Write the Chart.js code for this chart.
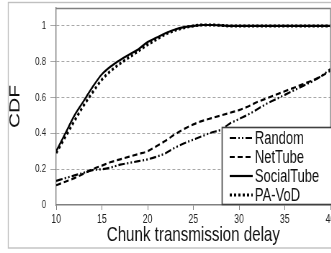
<!DOCTYPE html>
<html>
<head>
<meta charset="utf-8">
<script src="https://cdn.jsdelivr.net/npm/chart.js@4"></script>
<style>
  html, body { margin: 0; padding: 0; background: #fff; }
  #wrap { width: 331px; height: 253px; overflow: hidden; position: relative; }
  /* the original figure is squeezed horizontally */
  #c { transform: scaleX(0.72); transform-origin: 0 0; }
</style>
</head>
<body>
<div id="wrap"><canvas id="c" width="460" height="253"></canvas></div>
<script>
// Данные
const delays = [10, 11, 12, 13, 14, 15, 16, 17, 18, 19, 20, 21, 22, 23, 24, 25,
                26, 27, 28, 29, 30, 31, 32, 33, 34, 35, 36, 37, 38, 39, 40];
const randomCdf = [0.135, 0.15, 0.165, 0.18, 0.195, 0.20, 0.21, 0.225, 0.235, 0.245, 0.255,
                   0.27, 0.29, 0.32, 0.345, 0.365, 0.385, 0.405, 0.42, 0.455, 0.48,
                   0.505, 0.535, 0.565, 0.59, 0.615, 0.64, 0.665, 0.69, 0.72, 0.76];
const netTubeCdf = [0.11, 0.13, 0.15, 0.175, 0.20, 0.22, 0.24, 0.255, 0.27, 0.285, 0.30,
                    0.33, 0.36, 0.395, 0.425, 0.45, 0.47, 0.485, 0.50, 0.515, 0.53,
                    0.55, 0.575, 0.595, 0.615, 0.635, 0.655, 0.675, 0.695, 0.72, 0.75];
const socialTubeCdf = [0.30, 0.40, 0.50, 0.58, 0.66, 0.73, 0.775, 0.81, 0.84, 0.87, 0.91,
                       0.935, 0.96, 0.98, 0.993, 1.0, 1.005, 1.005, 1.003, 1.0, 1.0,
                       1.0, 1.0, 1.0, 1.0, 1.0, 1.0, 1.0, 1.0, 1.0, 1.0];
const paVodCdf = [0.29, 0.38, 0.47, 0.555, 0.63, 0.70, 0.75, 0.79, 0.825, 0.86, 0.895,
                  0.925, 0.955, 0.975, 0.99, 1.0, 1.005, 1.005, 1.003, 1.0, 1.0,
                  1.0, 1.0, 1.0, 1.0, 1.0, 1.0, 1.0, 1.0, 1.0, 1.0];
const seriesNames = ['Random', 'NetTube', 'SocialTube', 'PA-VoD'];
const xTicks = [10, 15, 20, 25, 30, 35, 40];
const yTicks = [0, 0.2, 0.4, 0.6, 0.8, 1];

const FONT = "'Liberation Sans', Arial, sans-serif";
const toPoints = (vals) => vals.map((v, i) => ({ x: delays[i], y: v }));

function makeSet(label, vals, dash, width) {
    return {
        label: label,
        data: toPoints(vals),
        borderColor: '#000',
        backgroundColor: '#000',
        borderWidth: width,
        borderDash: dash,
        pointRadius: 0,
        cubicInterpolationMode: 'monotone',
        fill: false
    };
}

// рамка вокруг всей картинки и вокруг области графика
const framePlugin = {
    id: 'frames',
    beforeDraw(chart) {
        const ctx = chart.ctx;
        ctx.save();
        ctx.strokeStyle = '#c0c0c0';
        ctx.lineWidth = 1.4;
        ctx.strokeRect(11.5, 2.5, chart.width, 245.5);
        ctx.restore();
    },
    afterDatasetsDraw(chart) {
        const a = chart.chartArea;
        const ctx = chart.ctx;
        ctx.save();
        ctx.strokeStyle = '#808080';
        ctx.lineWidth = 1.4;
        ctx.beginPath();
        ctx.moveTo(a.left, a.top + 0.5);
        ctx.lineTo(a.right, a.top + 0.5);
        ctx.lineTo(a.right, a.bottom);
        ctx.stroke();
        ctx.restore();
    }
};

// легенда в рамке внутри области графика
const boxLegend = {
    id: 'boxLegend',
    afterDraw(chart) {
        const ctx = chart.ctx;
        ctx.save();
        ctx.fillStyle = '#fff';
        ctx.fillRect(308, 127, 160, 78);
        ctx.strokeStyle = '#404040';
        ctx.lineWidth = 1.6;
        ctx.strokeRect(308.5, 127.5, 160, 77);
        chart.data.datasets.forEach((ds, i) => {
            const y = 138 + i * 19;
            ctx.beginPath();
            ctx.setLineDash(ds.borderDash || []);
            ctx.lineWidth = ds.borderWidth;
            ctx.strokeStyle = '#000';
            ctx.moveTo(319, y);
            ctx.lineTo(351, y);
            ctx.stroke();
            ctx.setLineDash([]);
            ctx.fillStyle = '#111';
            ctx.font = '18px ' + FONT;
            ctx.textBaseline = 'middle';
            ctx.fillText(ds.label, 354, y + 1);
        });
        ctx.restore();
    }
};

new Chart(document.getElementById('c'), {
    type: 'line',
    data: {
        datasets: [
            makeSet(seriesNames[0], randomCdf, [9, 3, 2, 3, 2, 3], 2.2),
            makeSet(seriesNames[1], netTubeCdf, [7, 4], 2.2),
            makeSet(seriesNames[2], socialTubeCdf, [], 2.2),
            makeSet(seriesNames[3], paVodCdf, [3, 3], 3)
        ]
    },
    options: {
        responsive: false,
        animation: false,
        layout: { padding: { top: 8, right: 1, left: 0, bottom: 0 } },
        plugins: {
            legend: { display: false },
            tooltip: { enabled: false }
        },
        scales: {
            x: {
                type: 'linear',
                min: 10,
                max: 40,
                afterBuildTicks: (axis) => { axis.ticks = xTicks.map(v => ({ value: v })); },
                afterFit: (axis) => { axis.height = 48; axis.paddingLeft = 0; axis.paddingRight = 0; },
                ticks: {
                    color: '#222',
                    font: { family: FONT, size: 12 },
                    padding: 2,
                    maxRotation: 0,
                    autoSkip: false
                },
                grid: { display: true, drawOnChartArea: false, tickLength: 5, color: '#808080' },
                border: { color: '#808080', width: 1.4 },
                title: {
                    display: true,
                    text: 'Chunk transmission delay',
                    color: '#111',
                    font: { family: FONT, size: 21 },
                    padding: { top: 0, bottom: 5 }
                }
            },
            y: {
                min: 0,
                max: 1.1,
                afterBuildTicks: (axis) => { axis.ticks = yTicks.map(v => ({ value: v })); },
                afterFit: (axis) => { axis.width = 78; axis.paddingTop = 0; axis.paddingBottom = 0; },
                ticks: {
                    color: '#222',
                    font: { family: FONT, size: 11 },
                    padding: 6,
                    callback: (v) => String(Math.round(v * 10) / 10)
                },
                grid: {
                    color: (c) => c.tick && c.tick.value === 0 ? 'rgba(0,0,0,0)' : '#a8a8a8',
                    tickLength: 8,
                    lineWidth: 1
                },
                // в v4 пунктир сетки задаётся через border.dash
                border: { color: '#808080', width: 1.4, dash: [4, 3] },
                title: {
                    display: true,
                    text: 'CDF',
                    color: '#111',
                    font: { family: FONT, size: 21 },
                    padding: { top: 9, bottom: 0 }
                }
            }
        }
    },
    plugins: [framePlugin, boxLegend]
});
</script>
</body>
</html>
